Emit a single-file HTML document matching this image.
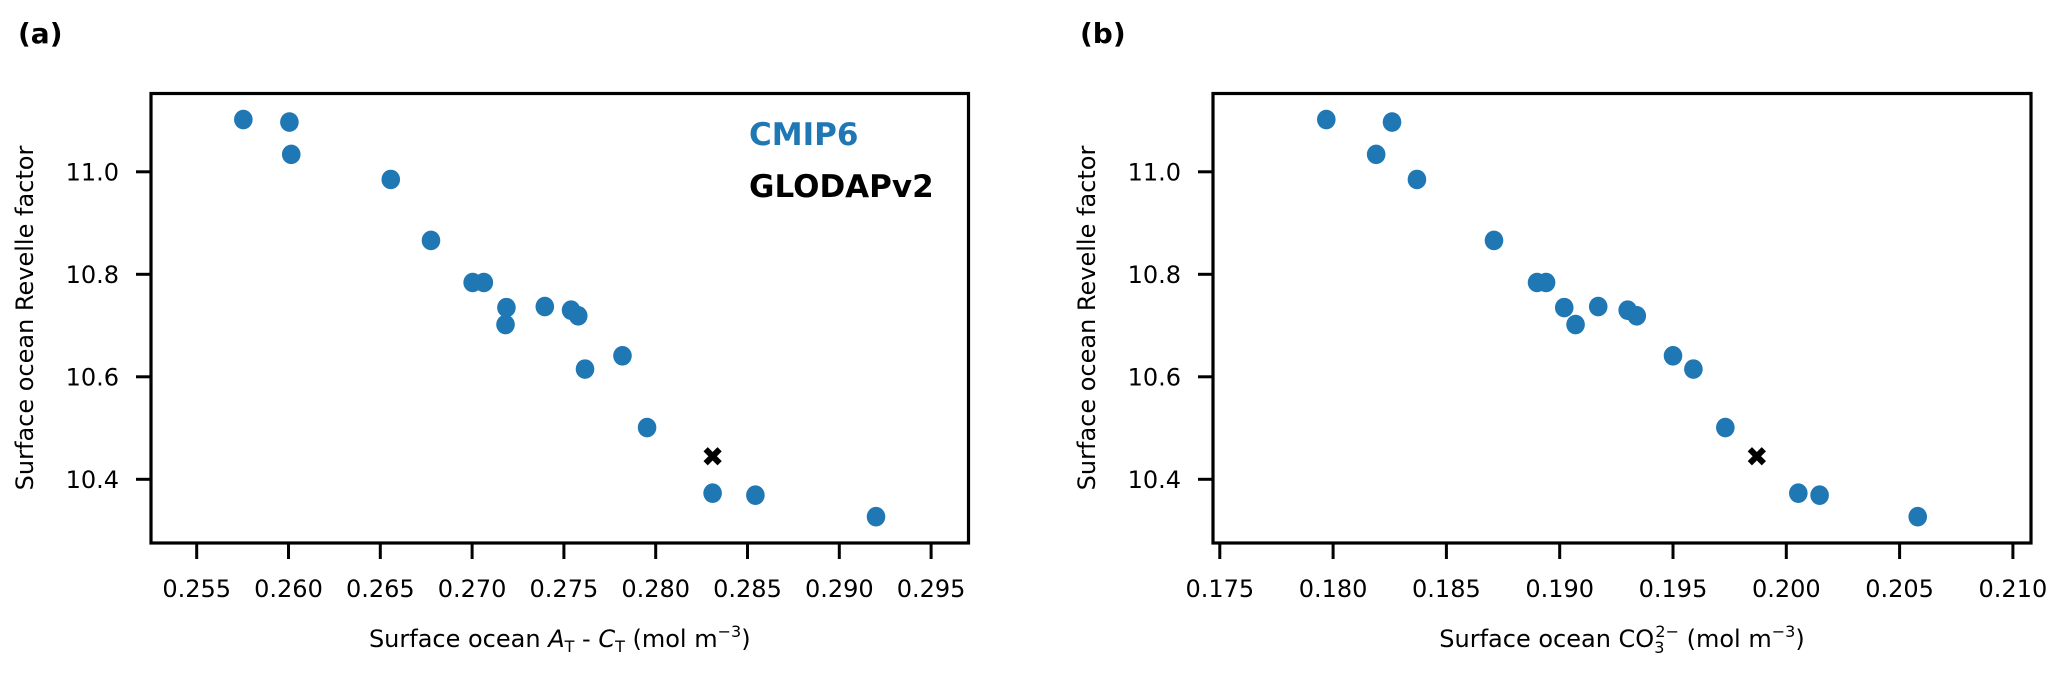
<!DOCTYPE html>
<html><head><meta charset="utf-8">
<style>
html,body{margin:0;padding:0;background:#fff;}
svg{display:block;font-family:"DejaVu Sans","Liberation Sans",sans-serif;}
</style></head>
<body>
<svg id="fig" width="2067" height="673" viewBox="0 0 2067 673" xmlns="http://www.w3.org/2000/svg">
<text x="18" y="43" font-size="28" font-weight="bold">(a)</text>
<text x="1080" y="43" font-size="28" font-weight="bold">(b)</text>
<g id="pa"></g>
<g id="pb"></g>
</svg>
<script>
const revelle = [11.102, 11.097, 11.034, 10.985, 10.866, 10.784, 10.784, 10.735, 10.702, 10.737, 10.730, 10.719, 10.615, 10.641, 10.501, 10.373, 10.369, 10.327];
const alkMinusDic = [0.25754, 0.26005, 0.26015, 0.26557, 0.26776, 0.27003, 0.27064, 0.27187, 0.27182, 0.27396, 0.27539, 0.27578, 0.27615, 0.27819, 0.27953, 0.2831, 0.28543, 0.2920];
const carbonate = [0.1797, 0.1826, 0.1819, 0.1837, 0.1871, 0.1890, 0.1894, 0.1902, 0.1907, 0.1917, 0.1930, 0.1934, 0.1959, 0.1950, 0.19731, 0.20053, 0.20147, 0.2058];
const glodapRevelle = 10.445;
const glodapAlkMinusDic = 0.2831;
const glodapCarbonate = 0.1987;
const yTicks = [10.4, 10.6, 10.8, 11.0];
const yTickLabels = ["10.4", "10.6", "10.8", "11.0"];
const xTicksA = [0.255, 0.260, 0.265, 0.270, 0.275, 0.280, 0.285, 0.290, 0.295];
const xTickLabelsA = ["0.255", "0.260", "0.265", "0.270", "0.275", "0.280", "0.285", "0.290", "0.295"];
const xTicksB = [0.175, 0.180, 0.185, 0.190, 0.195, 0.200, 0.205, 0.210];
const xTickLabelsB = ["0.175", "0.180", "0.185", "0.190", "0.195", "0.200", "0.205", "0.210"];

const NS = "http://www.w3.org/2000/svg";
function mk(parent, tag, attrs, text) {
  const e = document.createElementNS(NS, tag);
  for (const k in attrs) e.setAttribute(k, attrs[k]);
  if (text !== undefined) e.textContent = text;
  parent.appendChild(e);
  return e;
}
function yScale(v) { return 479.3 - (v - 10.4) / 0.2 * 102.5; }

function panel(g, left, right, x0val, x0px, pxPer, xvals, gx, ticks, tickLabels, ylabX, xlabel) {
  const top = 93.5, bottom = 543;
  const xs = v => x0px + (v - x0val) / 0.005 * pxPer;
  for (let i = 0; i < xvals.length; i++) {
    const c = mk(g, "ellipse", {cx: xs(xvals[i]), cy: yScale(revelle[i]), rx: 9.3, ry: 9.8, fill: "#1f77b4"});
    
    
  }
  const gxp = xs(gx), gyp = yScale(glodapRevelle);
  const m = mk(g, "path", {d: `M${gxp-7},${gyp-7}L${gxp+7},${gyp+7}M${gxp+7},${gyp-7}L${gxp-7},${gyp+7}`, stroke: "#000", "stroke-width": 6});
  
  
  const f = mk(g, "rect", {x: left, y: top, width: right - left, height: bottom - top, fill: "none", stroke: "#000", "stroke-width": 3.2});
  
  
  for (let i = 0; i < ticks.length; i++) {
    const x = xs(ticks[i]);
    if (x > right + 1) continue;
    const t = mk(g, "line", {x1: x, x2: x, y1: bottom, y2: bottom + 16, stroke: "#000", "stroke-width": 3});
    
    
    const l = mk(g, "text", {x: x, y: 597, "font-size": 24, "text-anchor": "middle"}, tickLabels[i]);
    
    
  }
  for (let i = 0; i < yTicks.length; i++) {
    const y = yScale(yTicks[i]);
    const t = mk(g, "line", {x1: left - 15, x2: left, y1: y, y2: y, stroke: "#000", "stroke-width": 3});
    
    
    const l = mk(g, "text", {x: left - 32, y: y + 8.5, "font-size": 24, "text-anchor": "end"}, yTickLabels[i]);
    
    
  }
  const yl = mk(g, "text", {x: 0, y: 0, "font-size": 24, "text-anchor": "middle", transform: `translate(${ylabX},318) rotate(-90)`}, "Surface ocean Revelle factor");
  
  
  const xl = mk(g, "text", {x: (left + right) / 2, y: 647, "font-size": 24, "text-anchor": "middle"});
  xl.innerHTML = xlabel;
  
  
}

const pa = document.getElementById("pa");
panel(pa, 151, 968.5, 0.255, 196.7, 91.8, alkMinusDic, glodapAlkMinusDic, xTicksA, xTickLabelsA, 33,
  'Surface ocean <tspan font-style="italic">A</tspan><tspan font-size="16" dy="5">T</tspan><tspan dy="-5"> - </tspan><tspan font-style="italic">C</tspan><tspan font-size="16" dy="5">T</tspan><tspan dy="-5"> (mol m</tspan><tspan font-size="16" dy="-10">−3</tspan><tspan dy="10">)</tspan>');
const pb = document.getElementById("pb");
panel(pb, 1213, 2031, 0.175, 1219.8, 113.3, carbonate, glodapCarbonate, xTicksB, xTickLabelsB, 1095,
  'Surface ocean CO<tspan font-size="16" dy="6">3</tspan><tspan font-size="16" dx="-9" dy="-16">2−</tspan><tspan dy="10"> (mol m</tspan><tspan font-size="16" dy="-10">−3</tspan><tspan dy="10">)</tspan>');

const lg1 = mk(pa, "text", {x: 749, y: 145, "font-size": 31, "font-weight": "bold", fill: "#1f77b4"}, "CMIP6");


const lg2 = mk(pa, "text", {x: 749, y: 197, "font-size": 31, "font-weight": "bold", fill: "#000"}, "GLODAPv2");


</script>
</body></html>
